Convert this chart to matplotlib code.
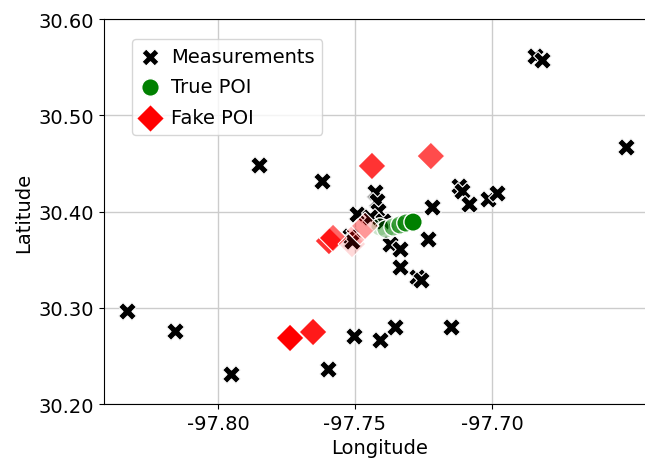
import matplotlib
matplotlib.use("Agg")
import matplotlib.pyplot as plt
import numpy as np

# measured positions (lon, lat)
meas_lon = [-97.8332, -97.8157, -97.7953, -97.7850, -97.7620, -97.7599, -97.7504,
            -97.7409, -97.7354, -97.7150, -97.6843, -97.6817, -97.6511, -97.7120,
            -97.7109, -97.7084, -97.7015, -97.6981, -97.7427, -97.7420, -97.7416,
            -97.7493, -97.7445, -97.7398, -97.7219, -97.7518, -97.7372, -97.7336,
            -97.7336, -97.7234, -97.7274, -97.7260, -97.7511]
meas_lat = [30.2966, 30.2758, 30.2312, 30.4483, 30.4317, 30.2364, 30.2706,
            30.2665, 30.2800, 30.2800, 30.5616, 30.5574, 30.4670, 30.4265,
            30.4213, 30.4078, 30.4130, 30.4192, 30.4203, 30.4109, 30.4005,
            30.3974, 30.3943, 30.3901, 30.4047, 30.3745, 30.3662, 30.3610,
            30.3423, 30.3714, 30.3319, 30.3288, 30.3693]

# estimated true POI track, faded by age
true_lon = [-97.7409, -97.7387, -97.7361, -97.7336, -97.7314, -97.7288]
true_lat = [30.3839, 30.3818, 30.3839, 30.3860, 30.3880, 30.3890]
true_alpha = [0.2, 0.3, 0.45, 0.6, 0.8, 1.0]

# fake POI candidates
fake_lon = [-97.7737, -97.7653, -97.7595, -97.7580, -97.7511, -97.7482, -97.7463,
            -97.7438, -97.7223]
fake_lat = [30.2686, 30.2748, 30.3693, 30.3725, 30.3662, 30.3797, 30.3850,
            30.4473, 30.4576]
fake_alpha = [1.0, 0.9, 0.8, 0.6, 0.15, 0.25, 0.2, 0.8, 0.7]

plt.rcParams['font.size'] = 14

fig = plt.figure(figsize=(6.45, 4.6), dpi=100)
ax = fig.add_axes([104 / 645, 55 / 460, 551 / 645, 385 / 460])

ax.scatter(meas_lon, meas_lat, marker='X', s=165, c='black',
           edgecolors='white', linewidths=0.8, zorder=3)

green = np.zeros((len(true_alpha), 4))
green[:, 1] = 128 / 255
green[:, 3] = true_alpha
ax.scatter(true_lon, true_lat, marker='o', s=175, c=green,
           edgecolors='white', linewidths=1.0, zorder=4)

red = np.zeros((len(fake_alpha), 4))
red[:, 0] = 1.0
red[:, 3] = fake_alpha
ax.scatter(fake_lon, fake_lat, marker='D', s=200, c=red,
           edgecolors='white', linewidths=0.8, zorder=5)

# legend handles with solid colours
h1 = ax.scatter([], [], marker='X', s=150, c='black', edgecolors='white', linewidths=0.8)
h2 = ax.scatter([], [], marker='o', s=160, c='green', edgecolors='white', linewidths=1.0)
h3 = ax.scatter([], [], marker='D', s=200, c='red', edgecolors='white', linewidths=0.8)
ax.legend([h1, h2, h3], ['Measurements', 'True POI', 'Fake POI'],
          loc='upper left', bbox_to_anchor=(0.051, 0.948), borderaxespad=0,
          handlelength=1.0, handletextpad=0.6, labelspacing=0.6, fontsize=14)

ax.set_xlim(-97.8416, -97.6405)
ax.set_ylim(30.20, 30.60)
ax.set_xticks([-97.80, -97.75, -97.70])
ax.set_yticks([30.20, 30.30, 30.40, 30.50, 30.60])
ax.xaxis.set_major_formatter(matplotlib.ticker.FormatStrFormatter('%.2f'))
ax.yaxis.set_major_formatter(matplotlib.ticker.FormatStrFormatter('%.2f'))
ax.grid(True, color='#cccccc', linewidth=1.0, zorder=0)
ax.set_axisbelow(True)
ax.set_xlabel('Longitude')
ax.set_ylabel('Latitude')

fig.savefig('out.png', dpi=100)
